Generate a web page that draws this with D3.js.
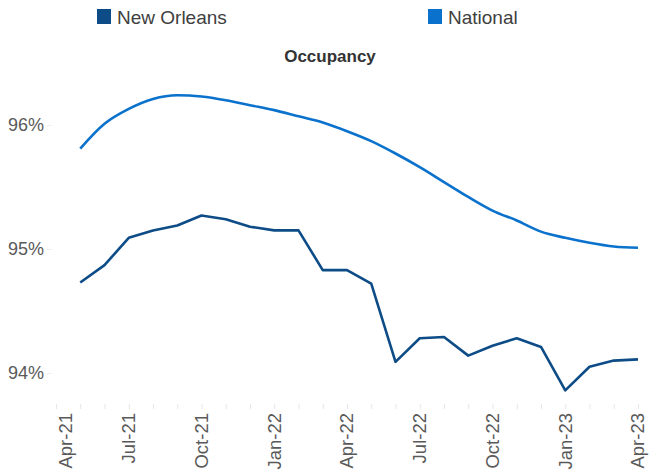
<!DOCTYPE html>
<html>
<head>
<meta charset="utf-8">
<script src="https://cdn.jsdelivr.net/npm/d3@7"></script>
<style>
  body { margin: 0; background: #fff; }
  svg { display: block; font-family: "Liberation Sans", Arial, sans-serif; }
</style>
</head>
<body>
<svg id="chart" width="663" height="475"></svg>
<script>
// ---- data ----
const months = ["Apr-21","May-21","Jun-21","Jul-21","Aug-21","Sep-21","Oct-21","Nov-21","Dec-21",
  "Jan-22","Feb-22","Mar-22","Apr-22","May-22","Jun-22","Jul-22","Aug-22","Sep-22","Oct-22",
  "Nov-22","Dec-22","Jan-23","Feb-23","Mar-23","Apr-23"];
const tickLabels = ["Apr-21","Jul-21","Oct-21","Jan-22","Apr-22","Jul-22","Oct-22","Jan-23","Apr-23"];
const dataMonths = months.slice(1);
const newOrleans = [94.73, 94.87, 95.09, 95.15, 95.19, 95.27, 95.24, 95.18, 95.15, 95.15,
  94.83, 94.83, 94.72, 94.09, 94.28, 94.29, 94.14, 94.22, 94.28, 94.21, 93.86, 94.05, 94.10, 94.11];
const national = [95.81, 96.01, 96.13, 96.21, 96.24, 96.23, 96.20, 96.16, 96.12, 96.07,
  96.02, 95.95, 95.87, 95.77, 95.66, 95.54, 95.42, 95.31, 95.23, 95.14, 95.09, 95.05, 95.02, 95.01];
const yTicks = [94, 95, 96];
const seriesNames = ["New Orleans", "National"];
const title = "Occupancy";

// ---- layout ----
const svg = d3.select("#chart");
const colors = { "New Orleans": "#0D4C86", "National": "#0A72CC" };

const x = d3.scalePoint().domain(months).range([56, 638]);
const y = d3.scaleLinear().domain([93.75, 96.5]).range([404, 63]);

// title
svg.append("text").attr("x", 330).attr("y", 62).attr("text-anchor", "middle")
  .attr("font-size", 17).attr("font-weight", "bold").attr("fill", "#333")
  .text(title);

// legend
const legX = [97, 428];
seriesNames.forEach((s, i) => {
  const g = svg.append("g").attr("transform", `translate(${legX[i]},9)`);
  g.append("rect").attr("width", 14).attr("height", 15).attr("fill", colors[s]);
  g.append("text").attr("x", 20).attr("y", 14.5).attr("font-size", 19)
    .attr("fill", "#404040").text(s);
});

// y axis
const yAxis = d3.axisLeft(y).tickValues(yTicks).tickSize(5).tickFormat(d => d + "%");
const ya = svg.append("g").attr("transform", "translate(52,0)").call(yAxis);
ya.select(".domain").remove();
ya.selectAll("line").attr("stroke", "#eeeeee");
ya.selectAll("text").attr("font-size", 18).attr("fill", "#595959")
  .attr("font-family", "Liberation Sans, Arial, sans-serif").attr("x", -8);

// x axis ticks (every month)
const xAxis = d3.axisBottom(x).tickSize(5).tickFormat("");
const xa = svg.append("g").attr("transform", "translate(0,404)").call(xAxis);
xa.select(".domain").remove();
xa.selectAll("line").attr("stroke", "#e6e6e6");

// x labels (rotated)
svg.append("g").selectAll("text").data(tickLabels).join("text")
  .attr("transform", (d, i) => `translate(${x(d) + (i === 0 ? 10 : 0)},413) rotate(-90)`)
  .attr("text-anchor", "end").attr("dy", "0.35em")
  .attr("font-size", 18.5).attr("fill", "#595959").text(d => d);

// lines
const lineStraight = d3.line().x((d, i) => x(dataMonths[i])).y(d => y(d));
const lineSmooth = d3.line().x((d, i) => x(dataMonths[i])).y(d => y(d)).curve(d3.curveMonotoneX);

svg.append("path").datum(national).attr("d", lineSmooth)
  .attr("fill", "none").attr("stroke", colors["National"]).attr("stroke-width", 2.6)
  .attr("stroke-linejoin", "round");
svg.append("path").datum(newOrleans).attr("d", lineStraight)
  .attr("fill", "none").attr("stroke", colors["New Orleans"]).attr("stroke-width", 2.6)
  .attr("stroke-linejoin", "round");
</script>
</body>
</html>
